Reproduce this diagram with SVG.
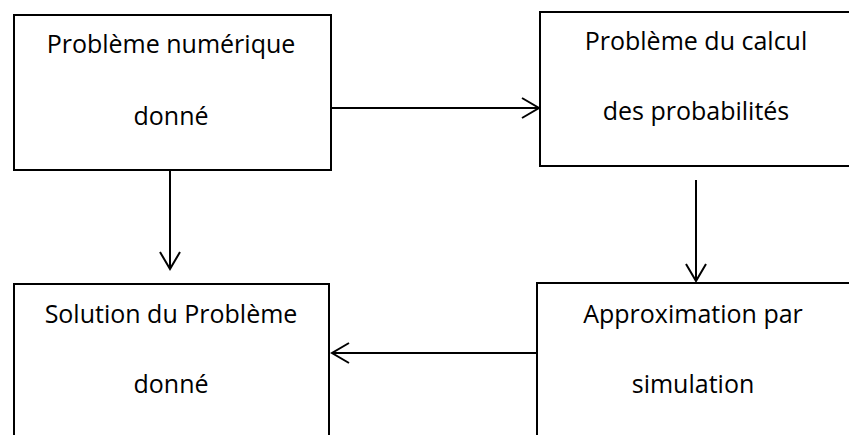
<svg xmlns="http://www.w3.org/2000/svg" width="849" height="435" viewBox="0 0 849 435">
<style>
.box{fill:#fff;stroke:#000;stroke-width:2}
.t{font-family:"Open Sans","Liberation Sans",sans-serif;font-size:25px;fill:#000;text-anchor:middle}
.c{stroke:#000;stroke-width:2;fill:none}
</style>
<defs>
<marker id="ah" markerUnits="userSpaceOnUse" viewBox="-20 -12 22 24" refX="0" refY="0" markerWidth="22" markerHeight="24" orient="auto">
<path d="M-17,-10 L0,0 L-17,10" fill="none" stroke="#000" stroke-width="2"/>
</marker>
</defs>
<rect width="849" height="435" fill="#fff"/>
<g id="n1">
<rect class="box" x="14" y="15" width="317" height="155"/>
<text class="t" x="171" y="53">Problème numérique</text>
<text class="t" x="171" y="125">donné</text>
</g>
<g id="n2">
<rect class="box" x="540" y="12" width="320" height="154"/>
<text class="t" x="696" y="50">Problème du calcul</text>
<text class="t" x="696" y="120">des probabilités</text>
</g>
<g id="n3">
<rect class="box" x="14" y="284" width="315" height="170"/>
<text class="t" x="171" y="323">Solution du Problème</text>
<text class="t" x="171" y="393">donné</text>
</g>
<g id="n4">
<rect class="box" x="537" y="283" width="320" height="170"/>
<text class="t" x="693" y="323">Approximation par</text>
<text class="t" x="693" y="393">simulation</text>
</g>
<g id="connectors">
<line class="c" x1="331" y1="108" x2="539" y2="108" marker-end="url(#ah)"/>
<line class="c" x1="170" y1="171" x2="170" y2="269" marker-end="url(#ah)"/>
<line class="c" x1="696" y1="180" x2="696" y2="281" marker-end="url(#ah)"/>
<line class="c" x1="537" y1="353" x2="332" y2="353" marker-end="url(#ah)"/>
</g>
</svg>
